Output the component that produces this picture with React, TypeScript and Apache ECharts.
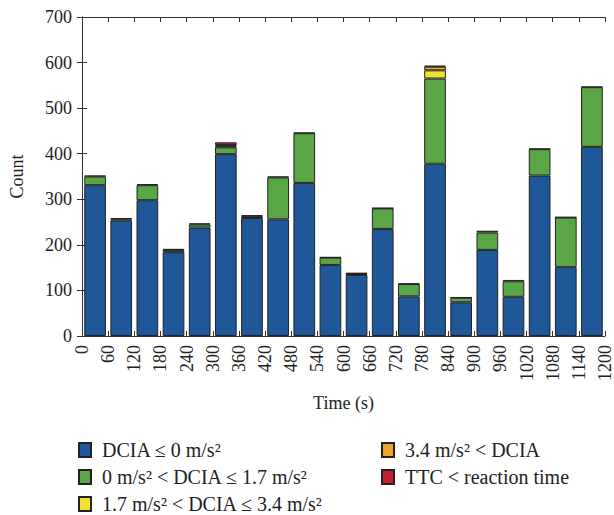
import React, { useEffect, useRef } from "react";
import * as echarts from "echarts";

const binLabels = ["0-60", "60-120", "120-180", "180-240", "240-300", "300-360", "360-420", "420-480", "480-540", "540-600", "600-660", "660-720", "720-780", "780-840", "840-900", "900-960", "960-1020", "1020-1080", "1080-1140", "1140-1200"];
const blueVals = [331, 253, 298, 184, 238, 399, 259, 256, 336, 156, 134, 235, 87, 378, 74, 189, 86, 352, 151, 415];
const greenVals = [19, 3, 33, 5, 7, 15, 4, 92, 109, 16, 2, 45, 27, 187, 10, 38, 34, 58, 109, 131];
const yellowVals = [0, 0, 0, 0, 0, 2, 0, 0, 0, 0, 0, 0, 0, 18, 0, 0, 0, 0, 0, 0];
const orangeVals = [0, 0, 0, 0, 0, 3, 0, 0, 0, 0, 0, 0, 0, 8, 0, 0, 0, 0, 0, 0];
const redVals = [2, 3, 2, 2, 2, 6, 2, 2, 1, 1, 3, 1, 1, 2, 1, 4, 3, 1, 1, 1];

const seriesNames = [
  "DCIA ≤ 0 m/s²",
  "0 m/s² < DCIA ≤ 1.7 m/s²",
  "1.7 m/s² < DCIA ≤ 3.4 m/s²",
  "3.4 m/s² < DCIA",
  "TTC < reaction time",
];
const seriesColors = ["#1f5799", "#5aa646", "#f2e232", "#eea42c", "#c8202f"];

export default function App() {
  const ref = useRef<HTMLDivElement>(null);
  useEffect(() => {
    if (!ref.current) return;
    const chart = echarts.init(ref.current, undefined, { renderer: "svg" });
    const font = "'Liberation Serif', 'Times New Roman', serif";
    const allVals = [blueVals, greenVals, yellowVals, orangeVals, redVals];
    const series = allVals.map((vals, i) => ({
      name: seriesNames[i],
      type: "bar",
      stack: "total",
      xAxisIndex: 0,
      yAxisIndex: 0,
      barWidth: "83%",
      itemStyle: { color: seriesColors[i], borderColor: "#222", borderWidth: 1 },
      data: vals.map((v) => (v > 0 ? v : "-")),
    }));
    const axisLine = { show: true, lineStyle: { color: "#333", width: 1 } };
    const tick = { show: true, inside: true, length: 5, lineStyle: { color: "#333" } };
    const legendText = {
      fontFamily: font,
      fontSize: 20,
      lineHeight: 20,
      color: "#222",
      padding: [0, 0, 0, 6],
    };
    chart.setOption({
      animation: false,
      textStyle: { fontFamily: font },
      grid: { left: 80, right: 6, top: 17, bottom: 179 },
      legend: [
        {
          orient: "vertical",
          left: 78,
          top: 440,
          padding: 0,
          itemWidth: 12,
          itemHeight: 14,
          itemGap: 7,
          icon: "rect",
          data: seriesNames.slice(0, 3),
          textStyle: legendText,
        },
        {
          orient: "vertical",
          left: 381,
          top: 440,
          padding: 0,
          itemWidth: 12,
          itemHeight: 14,
          itemGap: 7,
          icon: "rect",
          data: seriesNames.slice(3),
          textStyle: legendText,
        },
      ],
      xAxis: [
        {
          type: "category",
          data: binLabels,
          position: "bottom",
          axisLine: { show: false },
          axisTick: { show: false },
          axisLabel: { show: false },
          splitLine: { show: false },
        },
        {
          type: "value",
          position: "bottom",
          min: 0,
          max: 1200,
          interval: 60,
          name: "Time (s)",
          nameLocation: "middle",
          nameGap: 58,
          nameTextStyle: { fontFamily: font, fontSize: 18, color: "#222" },
          axisLine,
          axisTick: tick,
          axisLabel: {
            rotate: 90,
            fontFamily: font,
            fontSize: 18,
            color: "#222",
            margin: 9,
            formatter: (v: number) => String(v),
          },
          splitLine: { show: false },
        },
        {
          type: "value",
          position: "top",
          min: 0,
          max: 1200,
          interval: 60,
          axisLine,
          axisTick: tick,
          axisLabel: { show: false },
          splitLine: { show: false },
        },
      ],
      yAxis: [
        {
          type: "value",
          min: 0,
          max: 700,
          interval: 100,
          name: "Count",
          nameLocation: "middle",
          nameGap: 56,
          nameTextStyle: { fontFamily: font, fontSize: 18, color: "#222" },
          axisLine,
          axisTick: tick,
          axisLabel: { fontFamily: font, fontSize: 18, color: "#222", margin: 10 },
          splitLine: { show: false },
        },
        {
          type: "value",
          position: "right",
          min: 0,
          max: 700,
          interval: 100,
          axisLine,
          axisTick: tick,
          axisLabel: { show: false },
          splitLine: { show: false },
        },
      ],
      series,
    });
    return () => chart.dispose();
  }, []);
  return (
    <div
      ref={ref}
      style={{ position: "fixed", left: 0, top: 0, width: 614, height: 515, background: "#fff" }}
    />
  );
}
